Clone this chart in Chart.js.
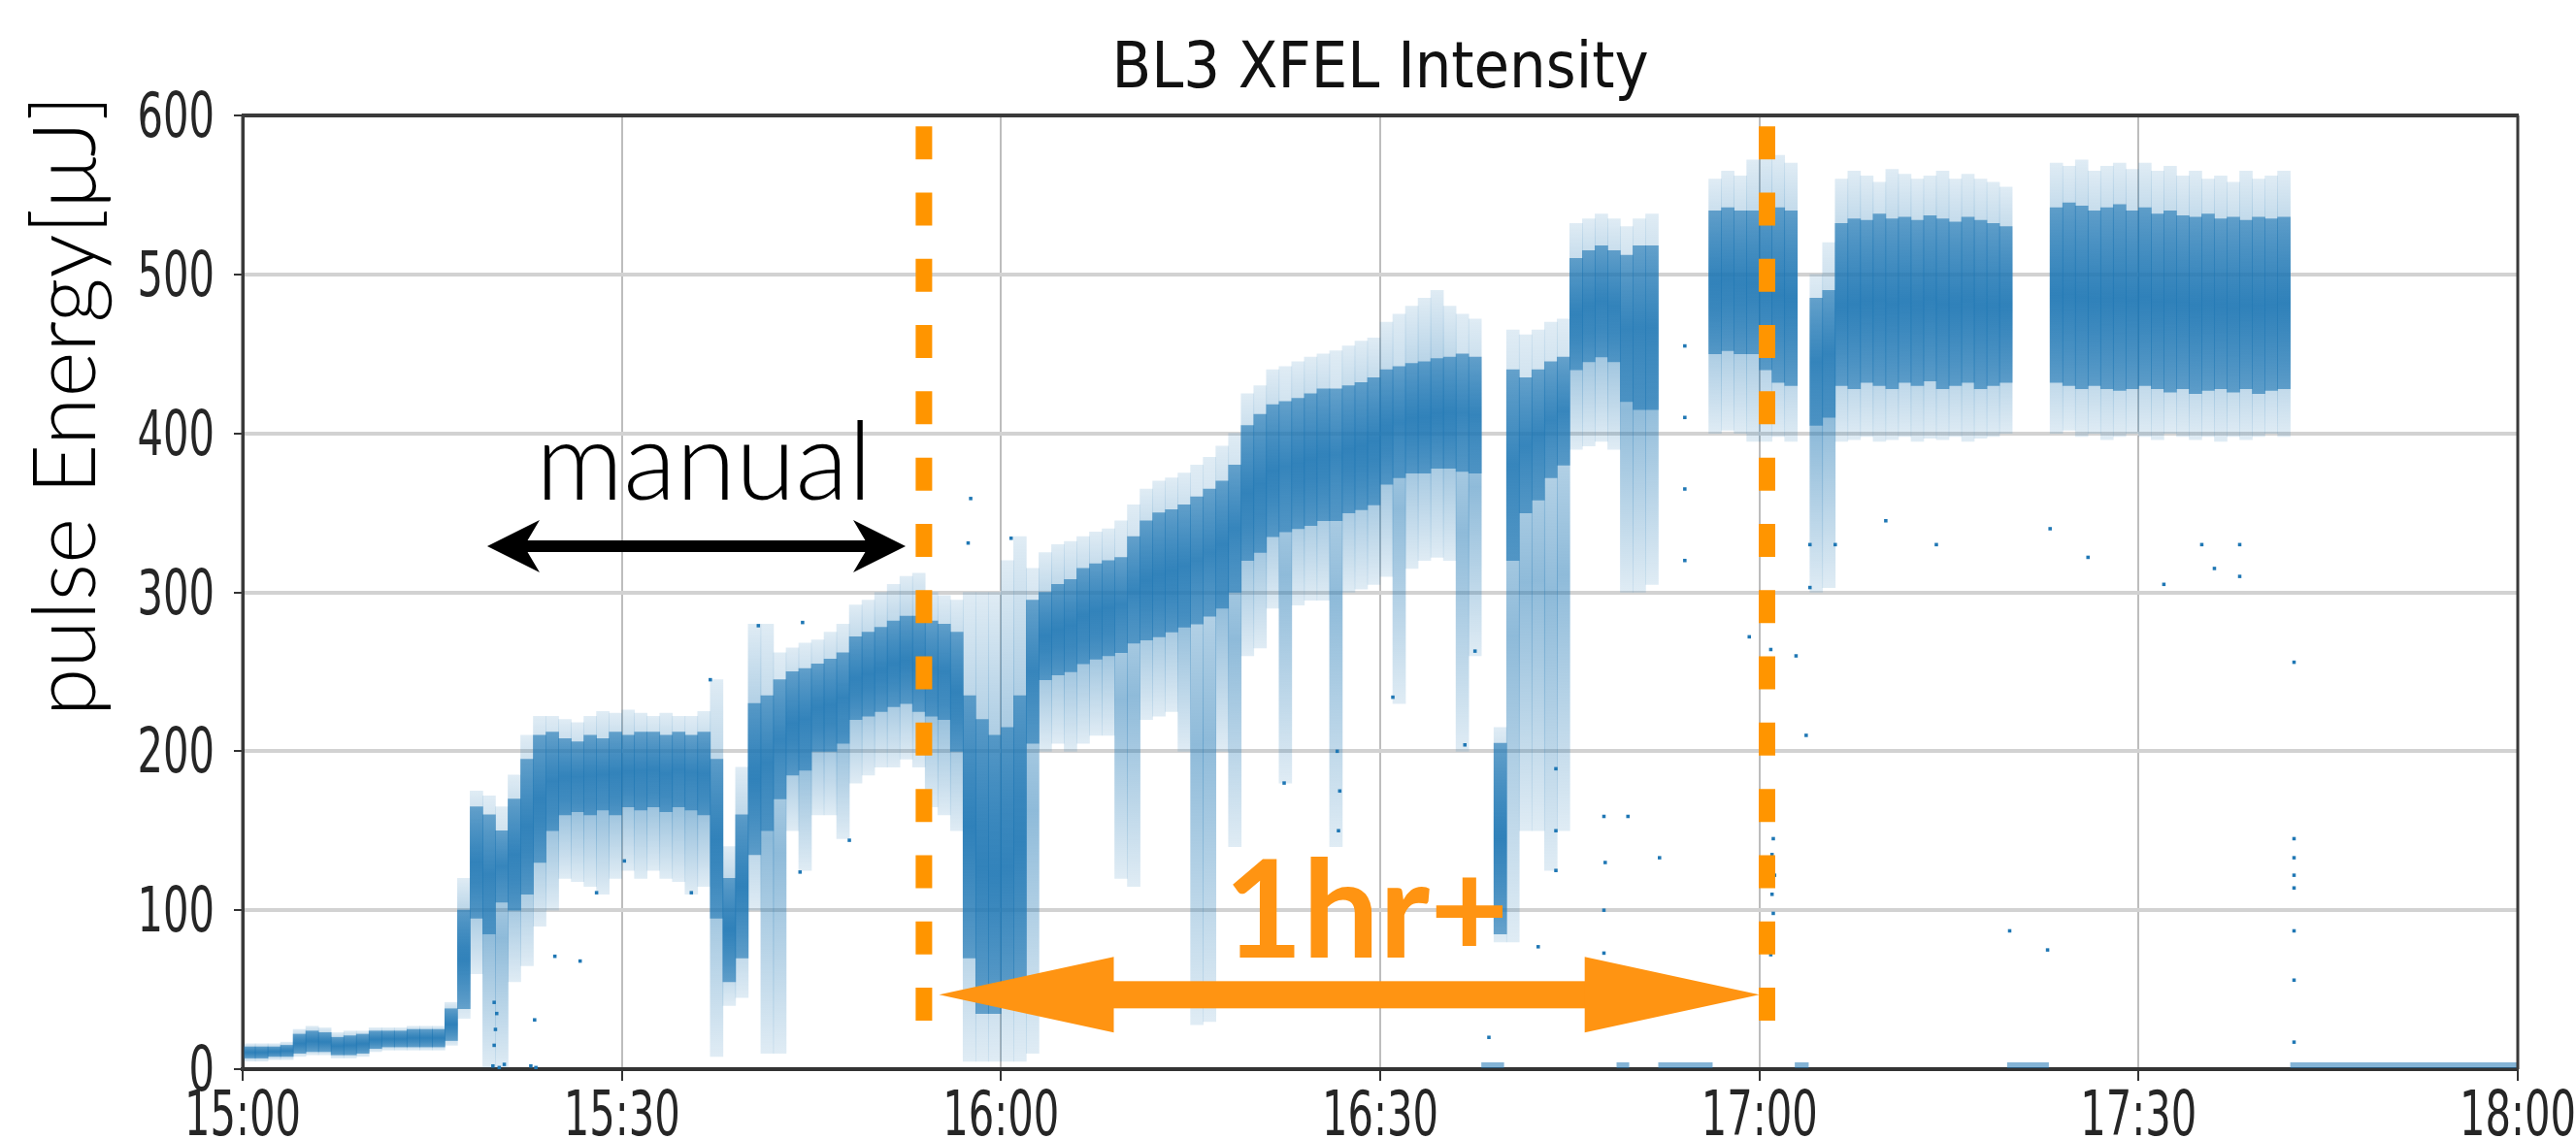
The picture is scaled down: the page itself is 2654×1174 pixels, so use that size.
<!DOCTYPE html>
<html>
<head>
<meta charset="utf-8">
<script src="https://cdn.jsdelivr.net/npm/chart.js@4.4.1/dist/chart.umd.min.js"></script>
<style>
html,body{margin:0;padding:0;background:#ffffff;}
#wrap{width:2654px;height:1174px;position:relative;}
</style>
</head>
<body>
<div id="wrap"><canvas id="c" width="2654" height="1174"></canvas></div>
<script>
// ---------- DATA (minutes after 15:00, pulse energy in µJ) ----------
const tickValues = [0, 30, 60, 90, 120, 150, 180];
const tickLabels = ["15:00", "15:30", "16:00", "16:30", "17:00", "17:30", "18:00"];
const yTickValues = [0, 100, 200, 300, 400, 500, 600];
const yTickLabels = ["0", "100", "200", "300", "400", "500", "600"];

// one entry per 1-minute bin (bin i covers minute i .. i+1)
const coreLow = [
  7,7,8,8,10,11,11,9,9,10,
  13,14,14,14,14,14,18,38,95,85,
  105,100,110,130,150,160,162,160,163,160,
  165,163,165,162,165,163,160,95,55,70,
  135,150,170,185,188,200,200,205,220,222,
  225,228,230,225,222,220,200,70,35,35,
  40,50,205,245,248,250,255,258,260,262,
  268,270,272,275,278,280,285,290,300,320,
  325,335,338,340,342,345,345,350,352,355,
  368,372,375,375,378,378,376,375,null,85,
  320,350,358,372,380,440,445,448,445,420,
  415,415,null,null,null,null,450,452,450,450,
  440,432,430,null,405,410,430,428,432,430,
  428,432,430,433,428,430,432,428,430,432,
  null,null,null,432,430,428,430,428,427,428,
  430,428,426,428,425,427,428,426,428,425,
  427,428,null,null,null,null,null,null,null,null,
  null,null,null,null,null,null,null,null,null,null
];
const coreHigh = [
  14,14,14,15,22,24,23,20,21,22,
  24,24,24,25,25,25,38,100,165,160,
  150,170,195,210,212,208,206,210,208,212,
  210,212,212,210,212,210,212,195,120,160,
  230,235,245,250,252,255,258,262,272,275,
  278,282,285,285,282,280,275,235,220,210,
  215,235,295,300,305,308,315,318,320,322,
  335,345,350,352,355,360,365,370,380,405,
  412,418,420,422,425,428,428,430,432,435,
  440,442,444,445,447,448,450,448,null,205,
  440,435,440,445,448,510,515,518,515,512,
  518,518,null,null,null,null,540,542,540,540,
  545,542,540,null,485,490,532,535,534,538,
  535,536,534,537,535,533,536,534,532,530,
  null,null,null,542,545,543,540,542,544,540,
  542,538,540,537,536,538,535,536,534,536,
  535,536,null,null,null,null,null,null,null,null,
  null,null,null,null,null,null,null,null,null,null
];
const haloLow = [
  5,5,6,6,8,9,9,7,7,8,
  11,12,12,12,12,12,15,32,60,0,
  0,55,65,90,100,120,118,115,110,120,
  125,120,125,120,118,110,115,8,40,45,
  100,10,10,150,125,160,160,145,180,185,
  190,190,195,190,165,160,150,5,5,5,
  5,5,10,200,205,200,205,210,210,120,
  115,220,222,225,200,28,30,200,140,260,
  265,290,180,292,295,295,140,300,302,305,
  310,230,315,320,322,320,200,260,null,80,
  80,150,150,125,150,390,392,395,390,300,
  300,305,null,null,null,null,400,402,400,395,
  395,398,395,null,300,303,395,396,398,395,
  396,398,395,397,396,398,395,397,398,400,
  null,null,null,400,402,398,400,396,398,400,
  398,396,400,398,396,398,395,398,396,398,
  400,398,null,null,null,null,null,null,null,null,
  null,null,null,null,null,null,null,null,null,null
];
const haloHigh = [
  16,16,16,17,25,27,26,23,24,24,
  26,26,26,27,27,27,42,120,175,172,
  165,185,210,222,222,220,218,222,225,224,
  226,224,222,224,222,222,225,245,140,190,
  280,280,262,265,268,270,275,280,292,295,
  300,305,310,312,300,298,295,300,300,300,
  320,335,315,325,330,332,335,338,340,345,
  355,365,370,372,375,380,385,392,400,425,
  430,440,442,445,448,450,452,455,458,460,
  470,475,480,485,490,480,475,472,null,215,
  465,462,465,470,472,532,535,538,535,530,
  535,538,null,null,null,null,560,565,562,572,
  578,575,570,null,500,520,560,565,562,558,
  566,563,560,562,565,560,563,560,558,555,
  null,null,null,570,568,572,565,568,570,566,
  570,565,568,562,565,560,562,558,565,560,
  562,565,null,null,null,null,null,null,null,null,
  null,null,null,null,null,null,null,null,null,null
];
// stretches where the detector read ~0 µJ  [start minute, end minute]
const zeroRuns = [[98,99.8],[108.7,109.7],[112,116.3],[122.8,123.9],[139.6,142.9],[162,180]];
const zeroLevel = 2.5;
// isolated outlier shots [minute, µJ]
const outlierT = [19.9,20.0,20.1,19.9,19.8,20.3,20.7,22.8,23.2,23.1,24.7,26.7,28,30.2,35.5,37,40.8,44.3,44.1,48,57.6,57.4,60.8,
  82.4,86.7,86.8,86.6,91,96.7,97.5,98.6,102.5,103.9,103.9,103.9,107.7,107.7,107.8,107.7,109.6,112.1,114.1,114.1,114.1,114.1,
  120.9,121.0,121.1,121.0,121.2,121.0,121.1,120.9,120.9,119.2,122.9,123.7,
  139.8,142.8,162.3,162.3,162.3,162.3,162.3,162.3,162.3,162.3,
  124,124,126,130,134,143,146,152,155,156,158,158];
const outlierV = [15,25,35,42,2,1,3,2,1,31,71,68,111,131,111,245,279,281,124,144,359,331,334,
  180,150,175,200,234,204,263,20,77,125,150,189,73,100,130,159,159,133,320,365,410,455,
  72,85,98,110,122,135,145,160,264,272,260,210,
  87,75,256,145,133,122,114,87,56,17,
  303,330,330,345,330,340,322,305,330,315,310,330];

// annotation anchors (data units)
const manualArrow = {from: 19.35, to: 52.45, level: 329};
const hourArrow = {from: 55.1, to: 120.0, level: 46.8};
const markers = [53.9, 120.6];
const markerSpan = [28.5, 593.2];

// ---------- build library data ----------
function bars(lo, hi) {
  const out = [];
  for (let i = 0; i < lo.length; i++) {
    if (lo[i] !== null && hi[i] !== null) out.push({x: i + 0.5, y: [lo[i], hi[i]]});
  }
  return out;
}
const zeroData = [];
zeroRuns.forEach(r => { zeroData.push({x: r[0], y: zeroLevel}); zeroData.push({x: r[1], y: zeroLevel}); zeroData.push({x: r[1] + 0.01, y: null}); });
const outlierData = outlierT.map((t, i) => ({x: t, y: outlierV[i]}));

// vertical fade for each cloud bar (denser toward its middle)
function cloudFill(edgeAlpha, midAlpha) {
  return (c) => {
    const ys = c.chart.scales.y;
    if (!ys || !c.raw || !Array.isArray(c.raw.y)) return 'rgba(31,119,180,' + midAlpha + ')';
    const top = ys.getPixelForValue(c.raw.y[1]);
    const bot = ys.getPixelForValue(c.raw.y[0]);
    if (!isFinite(top) || !isFinite(bot) || Math.abs(bot - top) < 2) return 'rgba(31,119,180,' + midAlpha + ')';
    const g = c.chart.ctx.createLinearGradient(0, top, 0, bot);
    g.addColorStop(0, 'rgba(31,119,180,' + edgeAlpha + ')');
    g.addColorStop(0.5, 'rgba(31,119,180,' + midAlpha + ')');
    g.addColorStop(1, 'rgba(31,119,180,' + edgeAlpha + ')');
    return g;
  };
}

const tickFont = "64.5px 'DejaVu Sans', sans-serif";
const tickSquash = 0.646;

function arrowHead(ctx, tipX, y, dir, len, half, notch) {
  ctx.beginPath();
  ctx.moveTo(tipX, y);
  ctx.lineTo(tipX + dir * len, y - half);
  ctx.lineTo(tipX + dir * (len - notch), y);
  ctx.lineTo(tipX + dir * len, y + half);
  ctx.closePath();
  ctx.fill();
}

const annotations = {
  id: 'annotations',
  afterDatasetsDraw(chart) {
    const {ctx, chartArea: a, scales} = chart;
    const xs = scales.x, ys = scales.y;
    ctx.save();
    // frame (top, right, left spines)
    ctx.strokeStyle = '#3a3a3a';
    ctx.lineWidth = 4;
    ctx.beginPath(); ctx.moveTo(a.left - 1, a.top); ctx.lineTo(a.right + 1, a.top); ctx.stroke();
    ctx.lineWidth = 3;
    ctx.beginPath(); ctx.moveTo(a.right, a.top); ctx.lineTo(a.right, a.bottom); ctx.stroke();
    ctx.beginPath(); ctx.moveTo(a.left, a.top); ctx.lineTo(a.left, a.bottom); ctx.stroke();

    // orange dashed markers
    ctx.strokeStyle = '#ff9500';
    ctx.lineWidth = 17;
    ctx.setLineDash([34, 34.3]);
    markers.forEach(m => {
      const px = xs.getPixelForValue(m);
      ctx.beginPath();
      ctx.moveTo(px, ys.getPixelForValue(markerSpan[1]));
      ctx.lineTo(px, ys.getPixelForValue(markerSpan[0]));
      ctx.stroke();
    });
    ctx.setLineDash([]);

    // orange double arrow
    ctx.fillStyle = '#ff9412';
    let yA = ys.getPixelForValue(hourArrow.level);
    let l = xs.getPixelForValue(hourArrow.from), r = xs.getPixelForValue(hourArrow.to);
    ctx.fillRect(l + 170, yA - 14, (r - l) - 340, 28);
    arrowHead(ctx, l, yA, 1, 180, 39, 0);
    arrowHead(ctx, r, yA, -1, 180, 39, 0);
    ctx.font = "bold 140px Lato, 'Noto Sans', sans-serif";
    ctx.textAlign = 'center';
    ctx.textBaseline = 'alphabetic';
    ctx.fillText('1hr+', xs.getPixelForValue(88.9), ys.getPixelForValue(70));

    // black double arrow
    ctx.fillStyle = '#000';
    ctx.strokeStyle = '#000';
    yA = ys.getPixelForValue(manualArrow.level);
    l = xs.getPixelForValue(manualArrow.from); r = xs.getPixelForValue(manualArrow.to);
    ctx.lineWidth = 12;
    ctx.beginPath(); ctx.moveTo(l + 30, yA); ctx.lineTo(r - 30, yA); ctx.stroke();
    arrowHead(ctx, l, yA, 1, 54, 27, 16);
    arrowHead(ctx, r, yA, -1, 54, 27, 16);
    ctx.font = "300 112px Lato, 'Noto Sans', sans-serif";
    ctx.fillText('manual', xs.getPixelForValue(36.5), ys.getPixelForValue(358));
    ctx.restore();
  },
  afterDraw(chart) {
    const {ctx, chartArea: a, scales} = chart;
    const xs = scales.x, ys = scales.y;
    ctx.save();
    ctx.fillStyle = '#262626';
    ctx.font = tickFont;
    ctx.textBaseline = 'alphabetic';
    // x tick labels (condensed like the source image)
    ctx.textAlign = 'center';
    tickValues.forEach((v, i) => {
      ctx.save();
      ctx.translate(xs.getPixelForValue(v), a.bottom + 68);
      ctx.scale(tickSquash, 1);
      ctx.fillText(tickLabels[i], 0, 0);
      ctx.restore();
    });
    // y tick labels
    ctx.textAlign = 'right';
    yTickValues.forEach((v, i) => {
      ctx.save();
      ctx.translate(a.left - 29, ys.getPixelForValue(v) + 22);
      ctx.scale(tickSquash, 1);
      ctx.fillText(yTickLabels[i], 0, 0);
      ctx.restore();
    });
    // y axis label
    ctx.fillStyle = '#000';
    ctx.font = "300 90px Lato, 'Noto Sans', sans-serif";
    ctx.translate(98, 418);
    ctx.rotate(-Math.PI / 2);
    ctx.textAlign = 'center';
    ctx.fillText('pulse Energy[\u03bcJ]', 0, 0);
    ctx.restore();
  }
};

const ctx = document.getElementById('c').getContext('2d');
new Chart(ctx, {
  type: 'bar',
  data: {
    datasets: [
      {type: 'scatter', label: 'outliers', data: outlierData, pointStyle: 'rect', pointRadius: 2.5,
       backgroundColor: '#1f77b4', borderWidth: 0, order: 1},
      {type: 'bar', label: 'dense', data: bars(coreLow, coreHigh), backgroundColor: cloudFill(0.62, 0.85),
       borderWidth: 0, borderSkipped: false, grouped: false, barPercentage: 1, categoryPercentage: 1, order: 2},
      {type: 'bar', label: 'sparse', data: bars(haloLow, haloHigh), backgroundColor: cloudFill(0.14, 0.5),
       borderWidth: 0, borderSkipped: false, grouped: false, barPercentage: 1, categoryPercentage: 1, order: 3},
      {type: 'line', label: 'zero', data: zeroData, borderColor: 'rgba(31,119,180,0.55)', borderWidth: 6,
       pointRadius: 0, spanGaps: false, fill: false, order: 4}
    ]
  },
  options: {
    responsive: false,
    animation: false,
    devicePixelRatio: 1,
    layout: {padding: {left: 250, right: 60, top: 0, bottom: 0}},
    plugins: {
      legend: {display: false},
      tooltip: {enabled: false},
      title: {
        display: true,
        text: 'BL3 XFEL Intensity',
        color: '#111',
        font: {family: "'DejaVu Sans Condensed', 'DejaVu Sans', sans-serif", size: 66, weight: 'normal', lineHeight: 1},
        padding: {top: 40, bottom: 13}
      }
    },
    scales: {
      x: {
        type: 'linear', min: 0, max: 180, offset: false,
        afterBuildTicks: s => { s.ticks = tickValues.map(v => ({value: v})); },
        afterFit: s => { s.height = 72; s.paddingLeft = 0; s.paddingRight = 0; },
        ticks: {display: false},
        grid: {color: '#bdbdbd', lineWidth: 2, offset: false, drawTicks: true, tickLength: 12, tickColor: '#333', tickWidth: 2},
        border: {color: '#333', width: 4}
      },
      y: {
        type: 'linear', min: 0, max: 600,
        afterBuildTicks: s => { s.ticks = yTickValues.map(v => ({value: v})); },
        afterFit: s => { s.width = 0; s.paddingTop = 0; s.paddingBottom = 0; },
        ticks: {display: false},
        grid: {color: '#d2d2d2', lineWidth: 4, drawTicks: true, tickLength: 9, tickColor: '#333', tickWidth: 2},
        border: {color: '#333', width: 3}
      }
    }
  },
  plugins: [annotations]
});
</script>
</body>
</html>
